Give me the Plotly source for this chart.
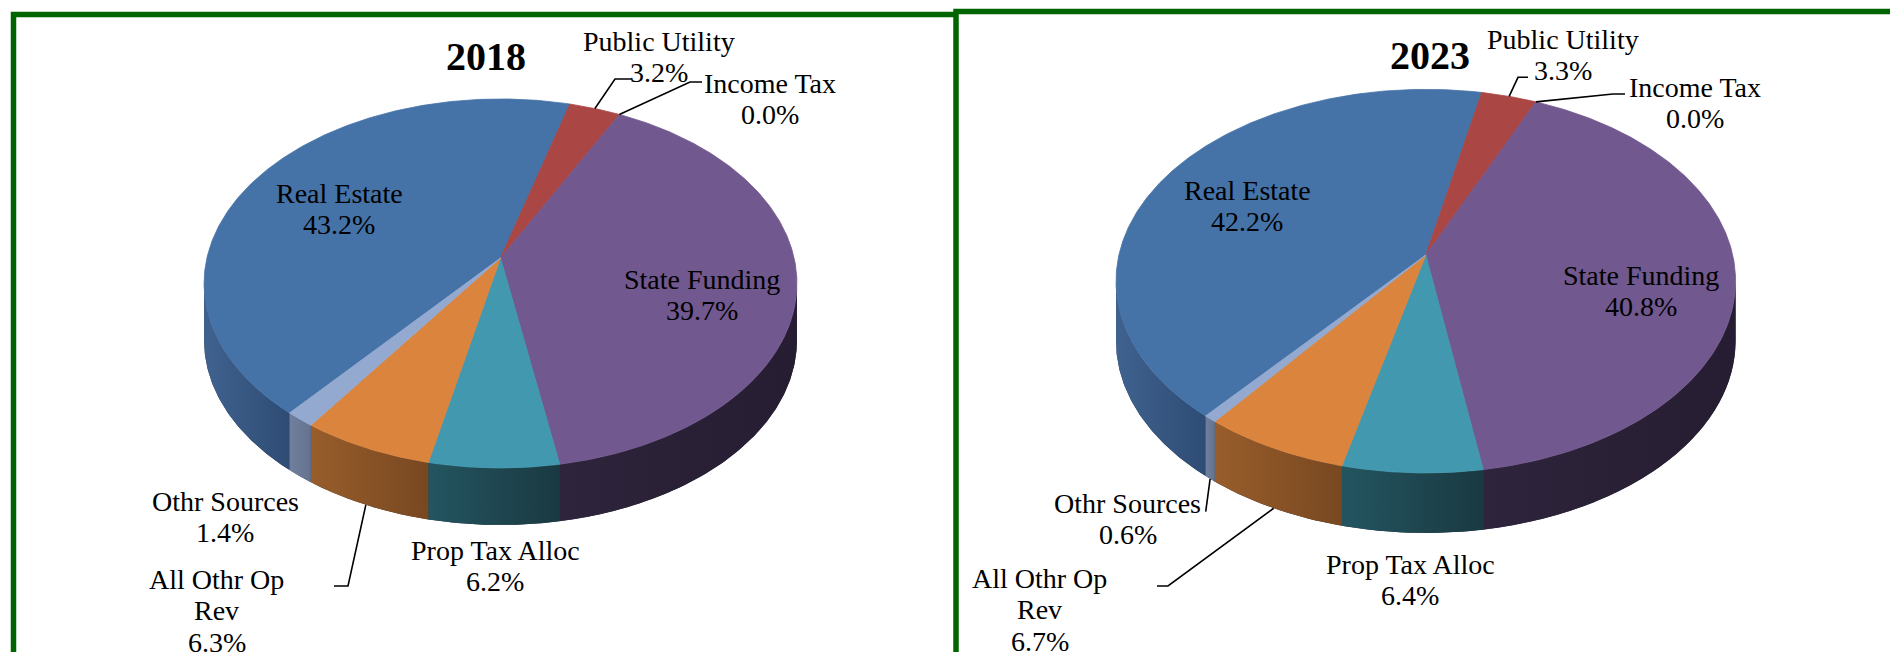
import numpy as np
import plotly.graph_objects as go

# ---------------- data ----------------
categories = ["Real Estate", "Public Utility", "Income Tax", "State Funding",
              "Prop Tax Alloc", "All Othr Op Rev", "Othr Sources"]
values_2018 = [43.2, 3.2, 0.0, 39.7, 6.2, 6.3, 1.4]
values_2023 = [42.2, 3.3, 0.0, 40.8, 6.4, 6.7, 0.6]
years = ["2018", "2023"]
label_wrap = {"All Othr Op Rev": ["All Othr Op", "Rev"]}

# ---------------- style ----------------
TOP_COLORS = ["#4572A7", "#AA4643", "#89A54E", "#71588F", "#4198AF", "#DB843D", "#93A9CF"]
SIDE_COLORS = [("#40628F", "#2E4C74"), ("#8A3936", "#7A302D"), ("#6E8A3E", "#5E7735"),
               ("#2E243B", "#271D32"), ("#235560", "#1A3942"), ("#985D2B", "#784821"),
               ("#6F7F9D", "#65738F")]
FIRST_SLICE_ANGLE = 220.0
FONT = "Liberation Serif, Times New Roman, serif"
W, H = 1890, 652
LINE_GAP = 31.5

PIES = {
    "2018": dict(values=values_2018, cx=500.5, A=293.6, B=145.4, c=-0.138, D=258.0, depth=57.0,
                 title=(485.5, 56),
                 labels={"Real Estate": (339, 193), "Public Utility": (659, 41),
                         "Income Tax": (770, 83), "State Funding": (702, 279),
                         "Prop Tax Alloc": (495, 550), "All Othr Op Rev": (216.5, 579),
                         "Othr Sources": (225, 501)},
                 leaders={"Public Utility": [(615, 79), (632, 79)],
                          "Income Tax": [(690, 82), (702, 82)],
                          "All Othr Op Rev": [(348, 586), (334, 586)]}),
    "2023": dict(values=values_2023, cx=1425.8, A=306.9, B=153.5, c=-0.1363, D=255.0, depth=60.0,
                 title=(1430, 55),
                 labels={"Real Estate": (1247, 190), "Public Utility": (1562.5, 39),
                         "Income Tax": (1695, 87), "State Funding": (1640.5, 275),
                         "Prop Tax Alloc": (1410, 564), "All Othr Op Rev": (1039.5, 578),
                         "Othr Sources": (1127.5, 503)},
                 leaders={"Public Utility": [(1518, 77.3), (1528, 77.3)],
                          "Income Tax": [(1613, 94), (1625, 94)],
                          "Othr Sources": [(1205.7, 511.7)],
                          "All Othr Op Rev": [(1168, 586), (1157, 586)]}),
}


def proj(theta, g):
    t = np.radians(theta)
    u = np.sin(t)
    v = -np.cos(t)
    w = 1 + g["c"] * v
    return g["cx"] + g["A"] * u / w, (g["B"] * v + g["D"]) / w


def arc(a0, a1, g, step=0.5):
    n = max(2, int(abs(a1 - a0) / step) + 2)
    th = np.linspace(a0, a1, n)
    return proj(th, g)


fig = go.Figure()
annotations = []

for year in years:
    g = PIES[year]
    vals = g["values"]
    th_r = np.degrees(np.arccos(g["c"]))
    th_l = 360 - th_r
    starts, ends = [], []
    cum = FIRST_SLICE_ANGLE
    for v in vals:
        starts.append(cum)
        cum += v * 3.6
        ends.append(cum)

    def visible(a0, a1):
        segs = []
        for k in range(-1, 3):
            lo, hi = th_r + 360 * k, th_l + 360 * k
            s, e = max(a0, lo), min(a1, hi)
            if e > s:
                segs.append((s, e))
        return segs

    # backdrop of the side wall
    bx, by = arc(th_r, th_l, g)
    fig.add_trace(go.Scatter(
        x=np.concatenate([bx, bx[::-1]]), y=np.concatenate([by, by[::-1] + g["depth"]]),
        fill="toself", fillcolor="#2B3040", line=dict(width=0), mode="lines",
        hoverinfo="skip", showlegend=False))

    # side walls
    for i, v in enumerate(vals):
        if v <= 0:
            continue
        for s, e in visible(starts[i], ends[i]):
            x, y = arc(s, e, g)
            fig.add_trace(go.Scatter(
                x=np.concatenate([x, x[::-1]]), y=np.concatenate([y, y[::-1] + g["depth"]]),
                fill="toself", mode="lines", line=dict(width=0),
                fillgradient=dict(type="horizontal",
                                  colorscale=[[0, SIDE_COLORS[i][0]], [1, SIDE_COLORS[i][1]]]),
                hoverinfo="skip", showlegend=False))

    # top faces
    ax, ay = proj(0.0, g)
    ax, ay = g["cx"], g["D"]
    for i, v in enumerate(vals):
        if v <= 0:
            continue
        x, y = arc(starts[i], ends[i], g)
        fig.add_trace(go.Scatter(
            x=np.concatenate([[ax], x, [ax]]), y=np.concatenate([[ay], y, [ay]]),
            fill="toself", fillcolor=TOP_COLORS[i], mode="lines",
            line=dict(width=0.8, color=TOP_COLORS[i]),
            hoverinfo="skip", showlegend=False))

    # labels
    for i, name in enumerate(categories):
        lx, ly = g["labels"][name]
        lines = label_wrap.get(name, [name]) + [f"{vals[i]:.1f}%"]
        for j, t in enumerate(lines):
            annotations.append(dict(x=lx, y=ly + j * LINE_GAP, xref="x", yref="y", text=t,
                                    showarrow=False, xanchor="center", yanchor="middle",
                                    font=dict(family=FONT, size=28, color="black")))
        if name in g["leaders"]:
            mid = (starts[i] + ends[i]) / 2
            px, py = proj(mid, g)
            if visible(mid - 1e-6, mid + 1e-6):
                py = py + g["depth"]
            pts = [(px, py)] + g["leaders"][name]
            fig.add_trace(go.Scatter(x=[p[0] for p in pts], y=[p[1] for p in pts],
                                     mode="lines", line=dict(color="black", width=1.6),
                                     hoverinfo="skip", showlegend=False))

    tx, ty = g["title"]
    annotations.append(dict(x=tx, y=ty, xref="x", yref="y", text=f"<b>{year}</b>",
                            showarrow=False, xanchor="center", yanchor="middle",
                            font=dict(family=FONT, size=40, color="black")))

GREEN = "#006400"
shapes = [
    dict(type="path", xref="x", yref="y", path="M 13.5 700 L 13.5 14.5 L 956 14.5",
         line=dict(color=GREEN, width=5.5)),
    dict(type="path", xref="x", yref="y", path="M 956 700 L 956 11.5 L 1950 11.5",
         line=dict(color=GREEN, width=5.5)),
]

fig.update_layout(
    width=W, height=H, margin=dict(l=0, r=0, t=0, b=0),
    paper_bgcolor="white", plot_bgcolor="white",
    xaxis=dict(range=[0, W], visible=False, fixedrange=True),
    yaxis=dict(range=[H, 0], visible=False, fixedrange=True),
    annotations=annotations, shapes=shapes, showlegend=False, hovermode=False,
)

fig.write_html("out.html", config={"displayModeBar": False},
               post_script="document.body.style.margin='0';document.body.style.overflow='hidden';")
